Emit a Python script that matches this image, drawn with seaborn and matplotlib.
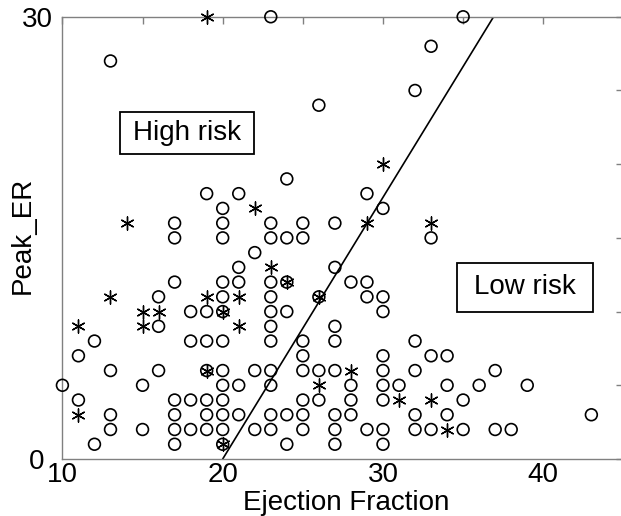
import matplotlib
matplotlib.use('Agg')
import numpy as np
import pandas as pd
import matplotlib.pyplot as plt
import matplotlib.transforms as mtransforms
import seaborn as sns
from matplotlib.patches import Rectangle

sns.set_style('white')
plt.rcParams['font.family'] = ['Liberation Sans', 'DejaVu Sans']
plt.rcParams['text.color'] = 'black'
plt.rcParams['axes.labelcolor'] = 'black'

# patients drawn as open circles
circle_x = [13, 23, 35, 33, 32, 26,
            19, 21, 20, 17, 17, 20, 20, 21, 17, 20, 21, 16, 20,
            24, 29, 30, 23, 25, 27, 23, 24, 25, 33, 22, 27, 23, 24, 28, 29, 23, 26, 29, 30,
            18, 19, 20, 16, 12, 18, 19, 20, 11, 13, 16, 19, 20, 10, 15, 20, 21, 11, 17, 18, 19, 20,
            13, 17, 19, 20, 21, 13, 15, 17, 18, 19, 20, 12, 17, 20,
            23, 24, 30, 23, 27, 23, 25, 27, 32, 25, 30, 33, 22, 23, 25, 26, 27, 30, 32, 23, 28, 30, 31,
            25, 26, 28, 30, 23, 24, 25, 27, 28, 32, 22, 23, 25, 27, 29, 30, 32, 33, 24, 27, 30,
            34, 37, 34, 36, 39, 35, 34, 43, 35, 37, 38]
circle_y = [27, 30, 30, 28, 25, 24,
            18, 18, 17, 16, 15, 16, 15, 13, 12, 12, 12, 11, 11,
            19, 18, 17, 16, 16, 16, 15, 15, 15, 15, 14, 13, 12, 12, 12, 12, 11, 11, 11, 11,
            10, 10, 10, 9, 8, 8, 8, 8, 7, 6, 6, 6, 6, 5, 5, 5, 5, 4, 4, 4, 4, 4,
            3, 3, 3, 3, 3, 2, 2, 2, 2, 2, 2, 1, 1, 1,
            10, 10, 10, 9, 9, 8, 8, 8, 8, 7, 7, 7, 6, 6, 6, 6, 6, 6, 6, 5, 5, 5, 5,
            4, 4, 4, 4, 3, 3, 3, 3, 3, 3, 2, 2, 2, 2, 2, 2, 2, 2, 1, 1, 1,
            7, 6, 5, 5, 5, 4, 3, 3, 2, 2, 2]

# patients drawn as asterisks
star_x = [19, 14, 13, 19, 21, 30, 22, 29, 33, 23, 24, 26, 15, 16, 20,
          11, 15, 21, 19, 11, 20, 28, 26, 31, 33, 34]
star_y = [30, 16, 11, 11, 11, 20, 17, 16, 16, 13, 12, 11, 10, 10, 10,
          9, 9, 9, 6, 3, 1, 6, 5, 4, 4, 2]

# decision boundary
boundary_x = [20, 36.9]
boundary_y = [0, 30]

x_ticks = [10, 15, 20, 25, 30, 35, 40, 45]
x_labels = ['10', '', '20', '', '30', '', '40', '']
y_ticks = [0, 5, 10, 15, 20, 25, 30]
y_labels = ['0', '', '', '', '', '', '30']

fig = plt.figure(figsize=(6.21, 5.16), dpi=100)
ax = fig.add_axes([0.1005, 0.1105, 0.9034, 0.857])

sns.scatterplot(x=circle_x, y=circle_y, marker='o', s=72, facecolor='none',
                edgecolor='black', linewidth=1.2, ax=ax, zorder=3, clip_on=False)
sns.scatterplot(x=star_x, y=star_y, marker=(6, 2, 0), s=90, color='black',
                linewidth=1.0, ax=ax, zorder=4, clip_on=False)
sns.lineplot(x=boundary_x, y=boundary_y, color='black', linewidth=1.2, ax=ax)

# risk labels
ax.add_patch(Rectangle((13.59, 20.68), 8.39, 2.86, fill=False, edgecolor='black', linewidth=1.3, zorder=5))
ax.text(17.8, 22.1, 'High risk', fontsize=20, ha='center', va='center', zorder=6)
ax.add_patch(Rectangle((34.62, 9.99), 8.48, 3.31, fill=False, edgecolor='black', linewidth=1.3, zorder=5))
ax.text(38.86, 11.65, 'Low risk', fontsize=20, ha='center', va='center', zorder=6)

ax.set_xlim(10, 45)
ax.set_ylim(0, 30)
ax.set_xticks(x_ticks)
ax.set_xticklabels(x_labels)
ax.set_yticks(y_ticks)
ax.set_yticklabels(y_labels)
ax.tick_params(direction='in', length=5, width=1, color='0.5', top=True, right=True,
               labelsize=20, labelcolor='black')
ax.tick_params(axis='x', pad=2)
ax.tick_params(axis='y', pad=7)
# the "0" sits a little further left than "30"
ax.get_yticklabels()[0].set_transform(
    ax.get_yticklabels()[0].get_transform() + mtransforms.ScaledTranslation(-8 / 100, 0, fig.dpi_scale_trans))
for sp in ax.spines.values():
    sp.set_color('0.5')
    sp.set_linewidth(1)

ax.set_xlabel('Ejection Fraction', fontsize=20, va='center')
ax.xaxis.set_label_coords(0.5055, -0.1)
ax.set_ylabel('Peak_ER', fontsize=20, va='center')
ax.yaxis.set_label_coords(-0.070, 0.506)

fig.savefig('out.png', dpi=100)
